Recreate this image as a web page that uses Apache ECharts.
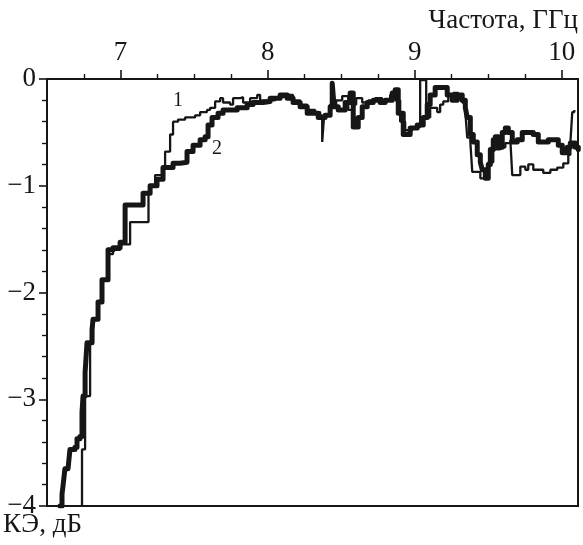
<!DOCTYPE html>
<html>
<head>
<meta charset="utf-8">
<script src="https://cdn.jsdelivr.net/npm/echarts@6/dist/echarts.min.js"></script>
<style>
  html, body { margin: 0; padding: 0; background: #fff; }
  #chart { width: 583px; height: 545px; }
</style>
</head>
<body>
<div id="chart"></div>
<script>
// Shielding efficiency vs frequency, two measured samples (step traces)
const freqRange = [6.5, 10.11];
const effRange = [-4, 0];
const majorFreqTicks = [7, 8, 9, 10];
const minorFreqTicks = [6.75, 7.25, 7.5, 7.75, 8.25, 8.5, 8.75, 9.25, 9.5, 9.75];
const majorEffTicks = [0, -1, -2, -3, -4];
const minorEffTicks = [-0.2, -0.4, -0.6, -0.8, -1.2, -1.4, -1.6, -1.8, -2.2, -2.4, -2.6, -2.8,
                       -3.2, -3.4, -3.6, -3.8];
const xTitle = 'Частота, ГГц';
const yTitle = 'КЭ, дБ';

// sample 1 (thin trace): [frequency GHz, efficiency dB]
const sample1 = [
  [6.738, -4.0], [6.738, -3.47], [6.759, -3.12], [6.759, -2.97], [6.793, -2.75], [6.793, -2.47],
  [6.813, -2.25], [6.847, -2.09], [6.874, -1.88], [6.915, -1.64], [6.949, -1.60], [6.997, -1.55],
  [7.065, -1.52], [7.065, -1.34], [7.190, -1.34], [7.190, -1.08], [7.201, -1.00], [7.235, -0.90],
  [7.282, -0.83], [7.303, -0.68], [7.337, -0.52], [7.357, -0.40], [7.391, -0.38], [7.439, -0.36],
  [7.473, -0.36], [7.507, -0.34], [7.541, -0.31], [7.588, -0.29], [7.609, -0.27], [7.643, -0.21],
  [7.677, -0.18], [7.697, -0.22], [7.745, -0.24], [7.765, -0.18], [7.813, -0.17], [7.833, -0.22],
  [7.881, -0.18], [7.929, -0.15], [7.949, -0.20], [7.997, -0.20], [8.051, -0.17], [8.119, -0.15],
  [8.173, -0.20], [8.221, -0.24], [8.269, -0.29], [8.323, -0.31], [8.357, -0.34], [8.371, -0.59],
  [8.384, -0.34], [8.425, -0.24], [8.466, -0.20], [8.507, -0.16], [8.548, -0.29], [8.575, -0.24],
  [8.602, -0.18], [8.643, -0.22], [8.684, -0.20], [8.731, -0.18], [8.779, -0.20], [8.833, -0.15],
  [8.867, -0.20], [8.901, -0.40], [8.935, -0.48], [8.983, -0.45], [9.037, -0.36], [9.037, -0.01],
  [9.078, -0.01], [9.078, -0.36], [9.105, -0.27], [9.153, -0.31], [9.173, -0.24], [9.194, -0.21],
  [9.228, -0.15], [9.262, -0.13], [9.296, -0.18], [9.323, -0.22], [9.344, -0.31], [9.357, -0.55],
  [9.378, -0.59], [9.391, -0.87], [9.432, -0.87], [9.446, -0.93], [9.493, -0.93], [9.500, -0.78],
  [9.534, -0.66], [9.582, -0.64], [9.616, -0.60], [9.650, -0.57], [9.663, -0.90], [9.697, -0.90],
  [9.718, -0.82], [9.752, -0.85], [9.772, -0.80], [9.806, -0.85], [9.840, -0.85], [9.874, -0.88],
  [9.922, -0.85], [9.969, -0.83], [10.010, -0.79], [10.044, -0.71], [10.058, -0.60], [10.071, -0.31],
  [10.085, -0.29]
];

// sample 2 (thick trace)
const sample2 = [
  [6.588, -4.0], [6.602, -3.89], [6.609, -3.81], [6.622, -3.65], [6.643, -3.64], [6.656, -3.47],
  [6.690, -3.45], [6.704, -3.37], [6.724, -3.35], [6.738, -3.12], [6.745, -2.97], [6.759, -2.75],
  [6.772, -2.47], [6.806, -2.35], [6.813, -2.25], [6.847, -2.09], [6.874, -1.88], [6.915, -1.60],
  [6.949, -1.58], [6.997, -1.53], [7.031, -1.18], [7.133, -1.18], [7.153, -1.07], [7.201, -1.00],
  [7.248, -0.94], [7.289, -0.83], [7.357, -0.79], [7.405, -0.78], [7.452, -0.68], [7.493, -0.62],
  [7.541, -0.57], [7.575, -0.54], [7.595, -0.43], [7.622, -0.36], [7.663, -0.32], [7.697, -0.29],
  [7.745, -0.29], [7.793, -0.27], [7.861, -0.24], [7.901, -0.22], [7.969, -0.21], [8.017, -0.18],
  [8.085, -0.15], [8.133, -0.18], [8.173, -0.22], [8.221, -0.26], [8.269, -0.32], [8.310, -0.32],
  [8.344, -0.36], [8.391, -0.34], [8.425, -0.26], [8.439, -0.04], [8.452, -0.26], [8.480, -0.29],
  [8.527, -0.22], [8.561, -0.13], [8.582, -0.45], [8.616, -0.36], [8.643, -0.26], [8.677, -0.22],
  [8.718, -0.20], [8.765, -0.22], [8.799, -0.20], [8.847, -0.13], [8.867, -0.10], [8.888, -0.32],
  [8.922, -0.52], [8.969, -0.46], [9.017, -0.43], [9.058, -0.36], [9.085, -0.24], [9.105, -0.15],
  [9.139, -0.08], [9.194, -0.08], [9.221, -0.15], [9.255, -0.20], [9.289, -0.15], [9.323, -0.20],
  [9.344, -0.27], [9.357, -0.36], [9.378, -0.52], [9.398, -0.59], [9.425, -0.71], [9.446, -0.78],
  [9.459, -0.85], [9.480, -0.93], [9.500, -0.80], [9.514, -0.66], [9.534, -0.57], [9.548, -0.54],
  [9.568, -0.64], [9.595, -0.50], [9.616, -0.46], [9.636, -0.50], [9.663, -0.59], [9.697, -0.57],
  [9.731, -0.50], [9.772, -0.50], [9.806, -0.52], [9.840, -0.59], [9.908, -0.57], [9.942, -0.57],
  [9.976, -0.62], [10.003, -0.69], [10.037, -0.64], [10.058, -0.60], [10.092, -0.64], [10.112, -0.66]
];

const curveLabels = ['1', '2'];

const FONT = '"Liberation Serif", "DejaVu Serif", serif';
const INK = '#161616';
const minusFmt = v => (v < 0 ? '\u2212' + Math.abs(v) : String(v));

const chart = echarts.init(document.getElementById('chart'), null, { renderer: 'canvas' });

const grid = { left: 47, top: 79, right: 5, bottom: 39, show: true, borderColor: INK, borderWidth: 2,
               backgroundColor: 'transparent' };

function xAxisBase(extra) {
  return Object.assign({
    type: 'value', position: 'top', min: freqRange[0], max: freqRange[1],
    splitLine: { show: false },
    axisLine: { show: true, onZero: false, lineStyle: { color: INK, width: 2 } }
  }, extra);
}
function yAxisBase(extra) {
  return Object.assign({
    type: 'value', position: 'left', min: effRange[0], max: effRange[1],
    splitLine: { show: false },
    axisLine: { show: true, onZero: false, lineStyle: { color: INK, width: 2 } }
  }, extra);
}

const option = {
  animation: false,
  backgroundColor: '#fff',
  grid: grid,
  xAxis: [
    xAxisBase({
      axisTick: { show: true, inside: false, length: 9, customValues: majorFreqTicks,
                  lineStyle: { color: INK, width: 1.6 } },
      axisLabel: { show: true, customValues: majorFreqTicks, margin: 13, color: INK,
                   fontFamily: FONT, fontSize: 27 }
    }),
    xAxisBase({
      axisTick: { show: true, inside: false, length: 5, customValues: minorFreqTicks,
                  lineStyle: { color: INK, width: 1.4 } },
      axisLabel: { show: false }
    })
  ],
  yAxis: [
    yAxisBase({
      axisTick: { show: true, inside: false, length: 8, customValues: majorEffTicks,
                  lineStyle: { color: INK, width: 1.6 } },
      axisLabel: { show: true, customValues: majorEffTicks, margin: 11, color: INK,
                   fontFamily: FONT, fontSize: 27, formatter: minusFmt }
    }),
    yAxisBase({
      axisTick: { show: true, inside: false, length: 5, customValues: minorEffTicks,
                  lineStyle: { color: INK, width: 1.4 } },
      axisLabel: { show: false }
    })
  ],
  series: [
    {
      name: curveLabels[0], type: 'line', step: 'end', data: sample1, showSymbol: false,
      xAxisIndex: 0, yAxisIndex: 0,
      lineStyle: { color: INK, width: 2.3 }, z: 3
    },
    {
      name: curveLabels[1], type: 'line', step: 'end', data: sample2, showSymbol: false,
      xAxisIndex: 0, yAxisIndex: 0,
      lineStyle: { color: INK, width: 5, join: 'round', cap: 'round' }, z: 2
    }
  ],
  graphic: [
    { type: 'text', right: 5, top: 7,
      style: { text: xTitle, fill: INK, font: '27px ' + FONT } },
    { type: 'text', left: 3, top: 511,
      style: { text: yTitle, fill: INK, font: '27px ' + FONT } },
    { type: 'text', left: 173, top: 91,
      style: { text: curveLabels[0], fill: INK, font: '20px ' + FONT } },
    { type: 'text', left: 212, top: 139,
      style: { text: curveLabels[1], fill: INK, font: '20px ' + FONT } }
  ]
};

chart.setOption(option);
</script>
</body>
</html>
